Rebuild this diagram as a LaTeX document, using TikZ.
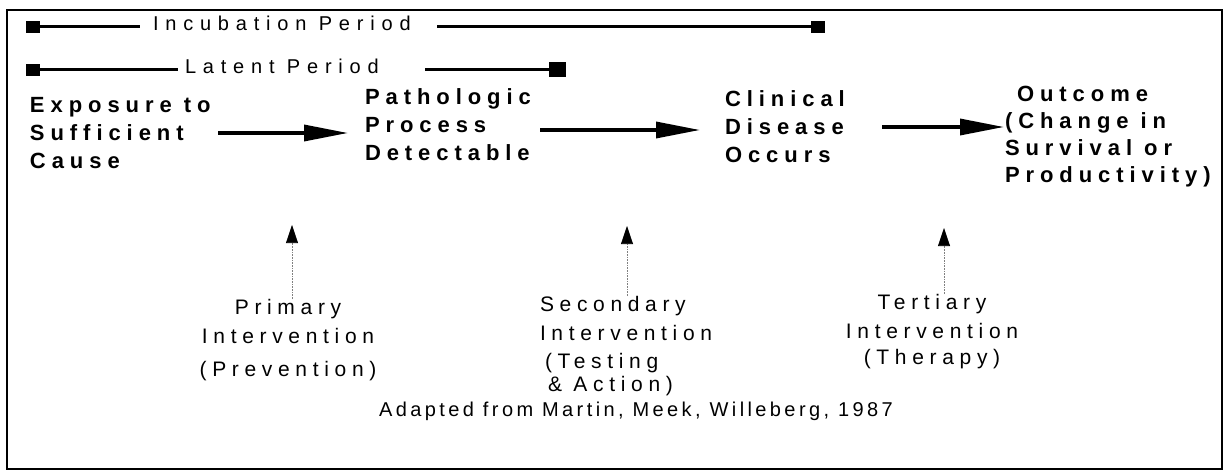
\documentclass[tikz,border=0pt]{standalone}
\usepackage{fontspec}
\setmainfont{Liberation Sans}
\usetikzlibrary{arrows.meta}
\newfontfamily\topf{Liberation Sans}[LetterSpace=34]
\newfontfamily\stagef{Liberation Sans}[LetterSpace=27]
\newfontfamily\lowf{Liberation Sans}[LetterSpace=27]
\newfontfamily\footf{Liberation Sans}[LetterSpace=17]
\begin{document}
\begin{tikzpicture}[x=1pt,y=-1pt,
  every node/.style={inner sep=0pt, outer sep=0pt},
  stage/.style={font=\stagef\bfseries\fontsize{22}{28}\selectfont, align=left, anchor=west},
  interv/.style={font=\lowf\fontsize{21}{29}\selectfont, anchor=north},
  period/.style={font=\topf\fontsize{20}{22}\selectfont, anchor=west},
  sq/.style={fill=black, minimum width=14pt, minimum height=12pt},
  bar/.style={line width=3pt},
  flow/.style={line width=3.4pt, -{Triangle[length=44pt,width=16pt]}},
  upar/.style={gray, line width=0.6pt, densely dotted, -{Triangle[length=18pt,width=12pt,color=black,fill=black]}}
]
\useasboundingbox (0,0) rectangle (1227,476);
\draw[line width=1.8pt] (7,10) rectangle (1222,469);

% period bars
\node[sq] (i1) at (33,27) {};
\node[period] (inc) at (153,23) {Incubation Period};
\node[sq] (i2) at (818,27) {};
\coordinate (i1e) at (140,27);
\coordinate (i2s) at (437,27);
\draw[bar] (i1) -- (i1e);
\draw[bar] (i2s) -- (i2);
\node[sq] (l1) at (33,70) {};
\node[period] (lat) at (185,66) {Latent Period};
\node[sq, minimum width=17pt, minimum height=15pt] (l2) at (557,70) {};
\coordinate (l1e) at (178,70);
\coordinate (l2s) at (425,70);
\draw[bar] (l1) -- (l1e);
\draw[bar] (l2s) -- (l2);

% stages
\node[stage] (expo) at (30,133) {Exposure to\\Sufficient\\Cause};
\node[stage] (path) at (365,125) {Pathologic\\Process\\Detectable};
\node[stage] (clin) at (725,127) {Clinical\\Disease\\Occurs};
\node[stage, font=\stagef\bfseries\fontsize{22}{27}\selectfont] (out) at (1005,137) {\hspace{12pt}Outcome\\(Change in\\Survival or\\Productivity)};

\coordinate (a1) at (218,133);
\coordinate (a2) at (540,130);
\coordinate (a3) at (882,127);
\draw[flow, shorten >=17pt] (a1) -- (a1 -| path.west);
\draw[flow, shorten >=25pt] (a2) -- (a2 -| clin.west);
\draw[flow, shorten >=1pt] (a3) -- (a3 -| out.west);

% interventions
\node[interv, align=center] (prim) at (288,299) {Primary\\Intervention\\[4pt](Prevention)};
\node[interv, align=left, anchor=north west] (sec) at (540,296) {Secondary\\Intervention\\[-1pt]\hspace{5pt}(Testing\\[-6pt]\hspace{8pt}\&\ Action)};
\node[interv, align=center] (ter) at (932,294) {Tertiary\\Intervention\\[-3pt](Therapy)};

\coordinate (t1) at (292,225);
\coordinate (t2) at (627,226);
\coordinate (t3) at (944,228);
\draw[upar] (t1 |- prim.north) -- (t1);
\draw[upar] (t2 |- sec.north) -- (t2);
\draw[upar] (t3 |- ter.north) -- (t3);

\node[font=\footf\fontsize{20}{22}\selectfont] (foot) at (636,411) {Adapted from Martin, Meek, Willeberg, 1987};
\end{tikzpicture}
\end{document}
